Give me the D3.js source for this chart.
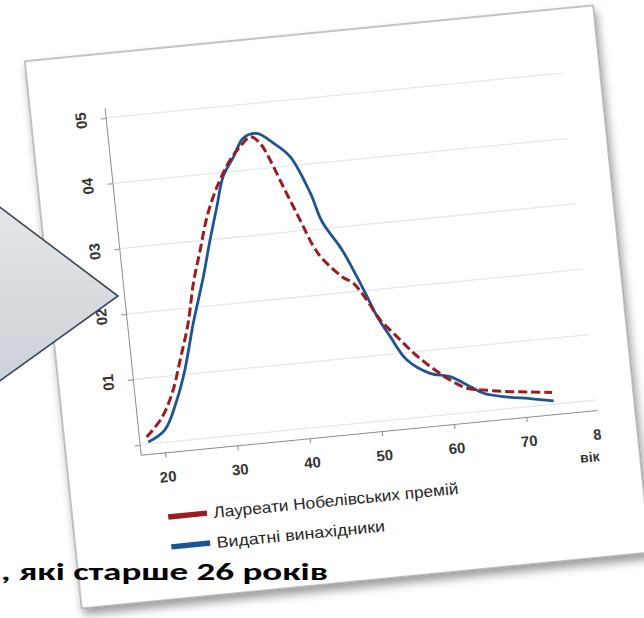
<!DOCTYPE html>
<html><head><meta charset="utf-8">
<script src="https://cdn.jsdelivr.net/npm/d3@7"></script>
<style>html,body{margin:0;padding:0;background:#fff;overflow:hidden}</style>
</head><body>
<svg id="c" width="644" height="618"></svg>
<script>
// ---- data ----
const redYears  = [17.7, 20.0, 21.8, 23.4, 25.0, 26.3, 27.7, 29.1, 30.9, 33.1, 34.6, 36.2, 37.4, 38.2, 40.0, 41.8, 43.3, 44.3, 46.8, 48.2, 49.8, 51.4, 53.4, 55.5, 57.6, 60.1, 62.3, 64.5, 67.7, 70.9, 73.9];
const redValues = [0.0011, 0.0037, 0.0073, 0.0123, 0.0177, 0.0237, 0.0286, 0.0335, 0.0379, 0.0418, 0.0436, 0.0450, 0.0439, 0.0422, 0.0369, 0.0317, 0.0274, 0.0255, 0.0224, 0.0213, 0.0186, 0.0153, 0.0126, 0.0098, 0.0075, 0.0052, 0.0037, 0.0032, 0.0026, 0.0022, 0.0018];
const blueYears  = [17.85, 20.3, 22.35, 23.9, 25.7, 27.75, 29.2, 30.6, 31.9, 33.6, 35.2, 37.1, 39.25, 41.35, 43.6, 44.8, 47.15, 48.8, 49.9, 51.0, 52.5, 54.45, 57.45, 60.15, 62.75, 64.5, 67.6, 70.8, 74.0];
const blueValues = [0.0003, 0.0019, 0.0062, 0.0107, 0.0176, 0.0245, 0.0300, 0.0349, 0.0394, 0.0422, 0.0449, 0.0454, 0.0437, 0.0414, 0.0356, 0.0311, 0.0265, 0.0222, 0.0191, 0.0159, 0.0127, 0.0089, 0.0065, 0.0057, 0.0039, 0.0027, 0.0018, 0.0012, 0.0005];
const xTickValues = [20, 30, 40, 50, 60, 70, 80];
const xTickLabels = ["20", "30", "40", "50", "60", "70", "80"];
const yTickValues = [0, 0.01, 0.02, 0.03, 0.04, 0.05];
const yTickLabels = ["", "01", "02", "03", "04", "05"];
const seriesNames = ["Лауреати Нобелівських премій", "Видатні винахідники"];
const xTitle = "вік";
const caption = ", які старше 26 років";

// ---- drawing ----
const svg = d3.select("#c");
const defs = svg.append("defs");
const sh = defs.append("filter").attr("id","shadow").attr("x","-10%").attr("y","-10%").attr("width","130%").attr("height","130%");
sh.append("feDropShadow").attr("dx",2).attr("dy",6).attr("stdDeviation",5).attr("flood-color","#000").attr("flood-opacity",0.4);
const grad = defs.append("linearGradient").attr("id","bub").attr("x1",0).attr("y1",0).attr("x2",0).attr("y2",1);
grad.append("stop").attr("offset","0%").attr("stop-color","#e3e6ea");
grad.append("stop").attr("offset","100%").attr("stop-color","#cdd2d8");
defs.append("clipPath").attr("id","plotclip").append("rect")
  .attr("x",-200).attr("y",-420).attr("width",635.5).attr("height",700);

// rotated / skewed card frame
const card = svg.append("g").attr("transform","matrix(0.9952,-0.0979,0.1034,0.9946,164,442.5)");
card.append("rect").attr("x",-99).attr("y",-393).attr("width",571).attr("height",550)
  .attr("fill","#fff").attr("stroke","#8a8a8a").attr("stroke-width",1).attr("filter","url(#shadow)");

const x = d3.scaleLinear().domain([16.62, 79.8]).range([-24.5, 434]);
const y = d3.scaleLinear().domain([0, 0.05]).range([0, -328.75]);
const axisY = 10, yTop = -339;
const font = "'Liberation Sans', Arial, sans-serif";

const plot = card.append("g").attr("clip-path","url(#plotclip)");

// gridlines
plot.selectAll("line.grid").data(yTickValues).join("line").attr("class","grid")
  .attr("x1", x.range()[0]).attr("x2", x.range()[1])
  .attr("y1", d => y(d)).attr("y2", d => y(d))
  .attr("stroke","#e2e9ec").attr("stroke-width",1.3);

// x axis
const xa = plot.append("g").attr("transform",`translate(0,${axisY})`)
  .call(d3.axisBottom(x).tickValues(xTickValues).tickFormat((d,i)=>xTickLabels[i]).tickSize(5).tickPadding(14).tickSizeOuter(0));
xa.select(".domain").attr("stroke","#8c8c8c");
xa.selectAll(".tick line").attr("stroke","#8c8c8c");
xa.selectAll("text").attr("font-family",font).attr("font-size",15).attr("font-weight","bold").attr("fill","#333");

// y axis
const yaG = plot.append("g").attr("transform",`translate(${x.range()[0]},0)`);
yaG.call(d3.axisLeft(d3.scaleLinear().domain([y.invert(axisY), y.invert(yTop)]).range([axisY, yTop]))
  .tickValues(yTickValues).tickFormat((d,i)=>yTickLabels[i]).tickSize(5).tickSizeOuter(0));
yaG.select(".domain").attr("stroke","#8c8c8c");
yaG.selectAll(".tick line").attr("stroke","#8c8c8c");
yaG.selectAll("text").attr("font-family",font).attr("font-size",15).attr("font-weight","bold").attr("fill","#333")
  .attr("x",0).attr("y",-19.5).attr("dy",0).attr("text-anchor","middle").attr("transform","rotate(-90)");

// curves
const line = d3.line().x(d => x(d[0])).y(d => y(d[1])).curve(d3.curveCatmullRom.alpha(0.5));
plot.append("path").datum(blueYears.map((v,i)=>[v, blueValues[i]])).attr("d", line)
  .attr("fill","none").attr("stroke","#1d5590").attr("stroke-width",2.8).attr("stroke-linejoin","round");
plot.append("path").datum(redYears.map((v,i)=>[v, redValues[i]])).attr("d", line)
  .attr("fill","none").attr("stroke","#9c1c22").attr("stroke-width",3).attr("stroke-dasharray","9,4");

// x title
card.append("text").attr("x",422).attr("y",61).attr("text-anchor","middle")
  .attr("font-family",font).attr("font-size",14).attr("font-weight","bold").attr("fill","#333").text(xTitle);

// legend
const legColors = ["#9c1c22","#1d5590"];
const legY = [74.5, 104.6];
const legLen = [246, 169];
seriesNames.forEach((n,i) => {
  card.append("line").attr("x1",-3.5).attr("x2",35.5).attr("y1",legY[i]).attr("y2",legY[i])
    .attr("stroke",legColors[i]).attr("stroke-width",5.5);
  card.append("text").attr("x",42).attr("y",legY[i]+5.5)
    .attr("font-family",font).attr("font-size",16).attr("fill","#262626")
    .attr("textLength",legLen[i]).attr("lengthAdjust","spacingAndGlyphs").text(n);
});

// callout arrow shape
svg.append("path").attr("d","M-3,205 L118,296 L-3,383 Z")
  .attr("fill","url(#bub)").attr("stroke","#3a4859").attr("stroke-width",1.6).attr("stroke-linejoin","miter");

// caption
svg.append("text").attr("x",1).attr("y",580)
  .attr("font-family","Calibri, Carlito, 'Open Sans', sans-serif").attr("font-weight","bold")
  .attr("font-size",25).attr("fill","#000").attr("textLength",327).attr("lengthAdjust","spacingAndGlyphs").text(caption);
</script>
</body></html>
